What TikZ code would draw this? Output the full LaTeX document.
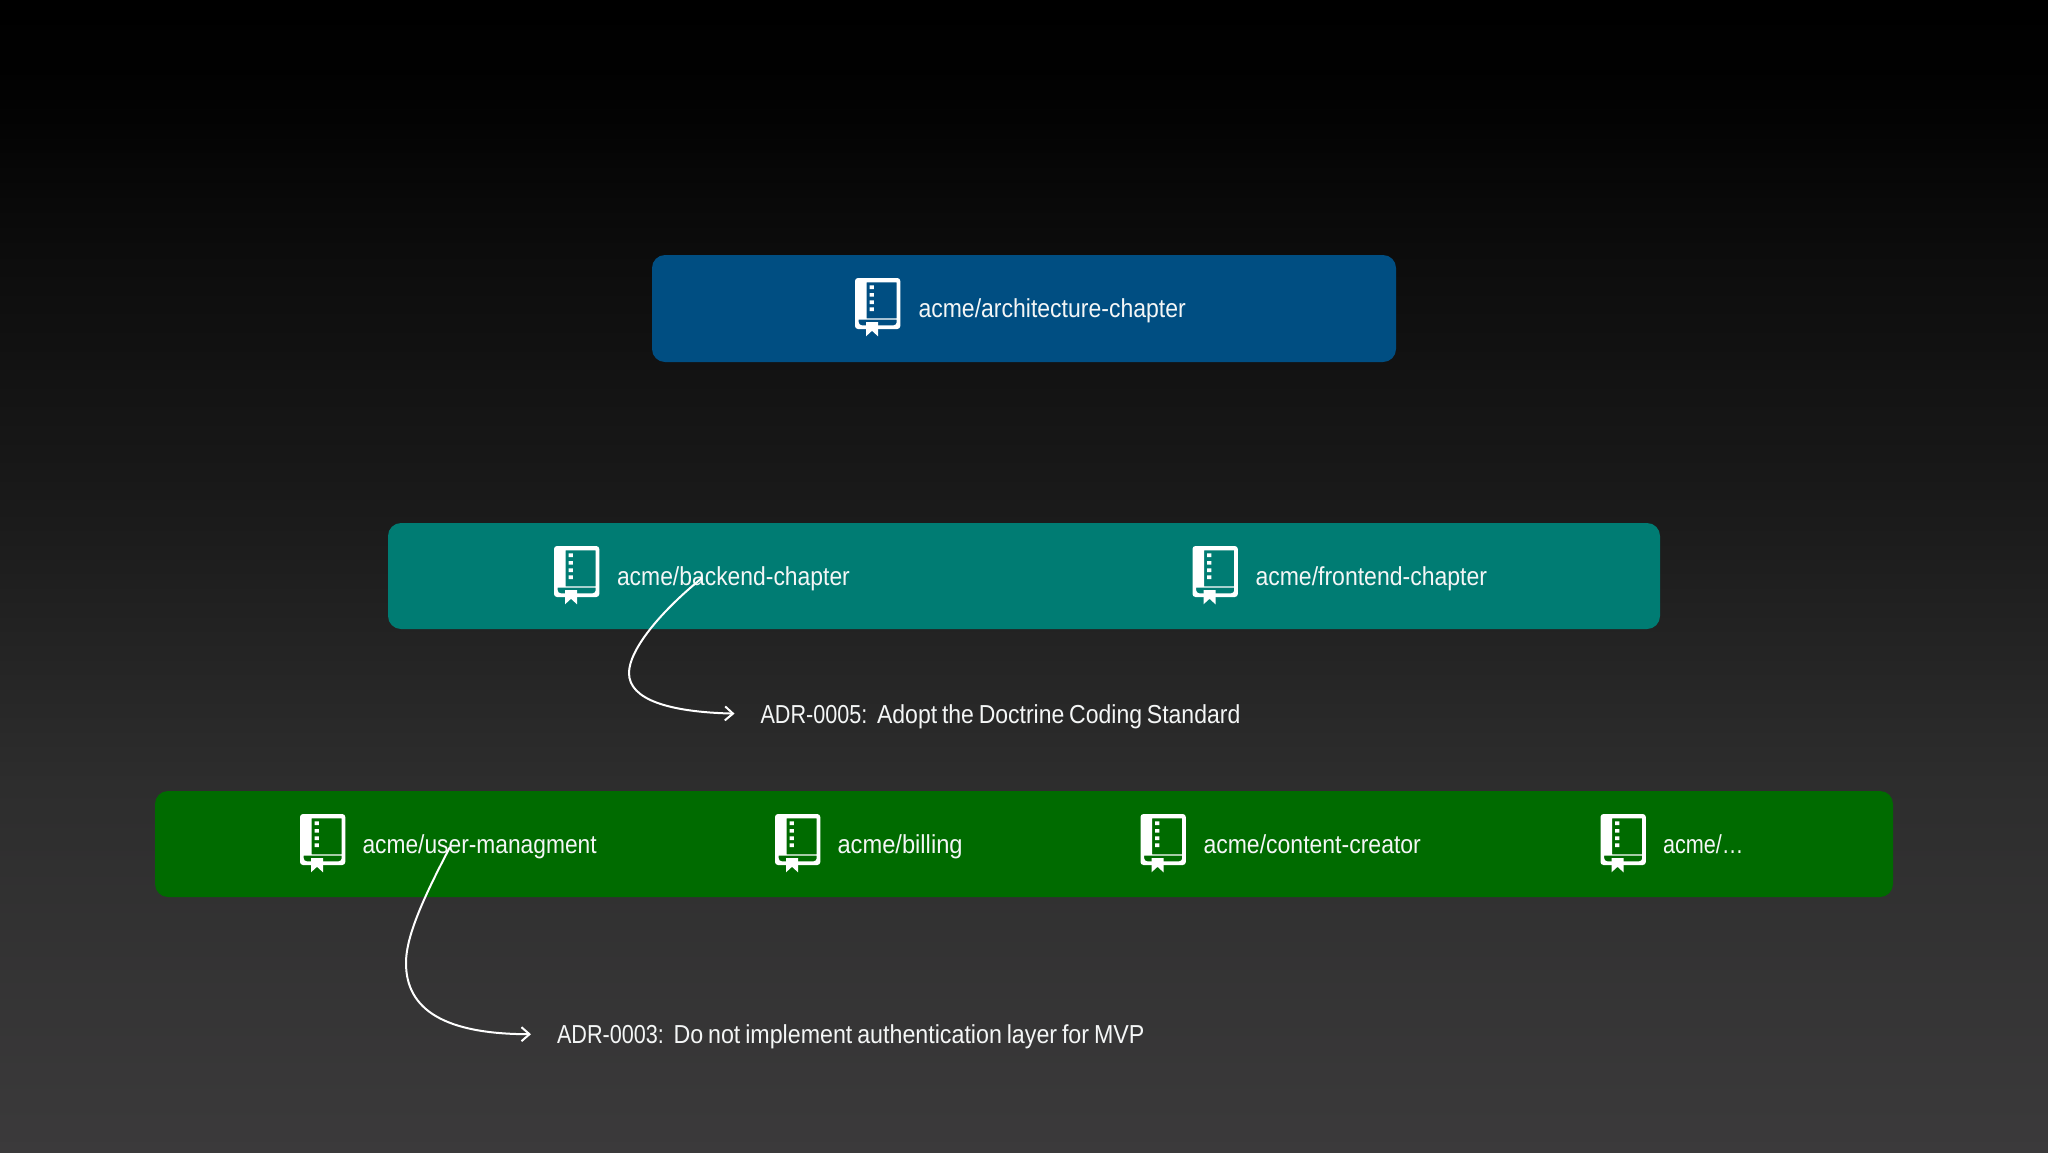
\documentclass[tikz,border=0pt]{standalone}
\usepackage{graphicx}
\usepackage{fontspec}
\setmainfont[FakeStretch=0.885,WordSpace=0.75]{Liberation Sans}
\usetikzlibrary{arrows.meta}
\definecolor{bluebar}{HTML}{004E82}
\definecolor{tealbar}{HTML}{007C73}
\definecolor{greenbar}{HTML}{006B00}
\definecolor{inktext}{HTML}{F4F6F6}
\pgfdeclareverticalshading{pagefade}{100bp}{
  rgb(0bp)=(0.231,0.227,0.231);
  rgb(25bp)=(0.231,0.227,0.231);
  rgb(41.1bp)=(0.176,0.176,0.176);
  rgb(52.9bp)=(0.102,0.102,0.102);
  rgb(64bp)=(0.048,0.048,0.048);
  rgb(70.6bp)=(0.008,0.008,0.008);
  rgb(75bp)=(0,0,0);
  rgb(100bp)=(0,0,0)}
\newcommand\squeezed[2]{\scalebox{#1}[1]{#2}}
\tikzset{
  x=1pt,y=-1pt,
  bar/.style={rounded corners=13pt,fill=#1,draw=none},
  repo/.style={anchor=base west,inner sep=0pt,outer sep=0pt,text=inktext,font=\fontsize{26}{30}\selectfont},
  adr/.style={anchor=base west,inner sep=0pt,outer sep=0pt,text=inktext,font=\fontsize{26}{30}\selectfont},
  link/.style={draw=white,line width=2pt,-{Straight Barb[length=8pt,width=14pt,line width=2pt]}},
  book/.pic={
    \fill[white,even odd rule,rounded corners=3pt]
      (0,0) rectangle (45.3,51)
      [sharp corners] (11.7,4.3) rectangle (41.7,40.3)
      (3.7,41.7) -- (41.7,41.7) [rounded corners=3pt] -- (41.7,47.3) -- (3.7,47.3) [sharp corners] -- cycle;
    \fill[white] (14.7,7.3) rectangle ++(4.2,3.7)
                 (14.7,15) rectangle ++(4.2,3.7)
                 (14.7,22.3) rectangle ++(4.2,3.7)
                 (14.7,29.4) rectangle ++(4.2,3.7);
    \fill[white] (11,44) -- (23,44) -- (23,58.3) -- (17,52.8) -- (11,58.3) -- cycle;
  }
}
\begin{document}
\begin{tikzpicture}
\useasboundingbox (0,0) rectangle (2048,1152);
\fill[shading=pagefade] (0,0) rectangle (2048,1152);

\path[bar=bluebar] (652,255) rectangle (1396,362);
\path[bar=tealbar] (388,523) rectangle (1660,629);
\path[bar=greenbar] (155,791) rectangle (1893,897);

\pic at (855,278) {book};
\pic at (554,546) {book};
\pic at (1192.5,546) {book};
\pic at (300,814) {book};
\pic at (775,814) {book};
\pic at (1140.5,814) {book};
\pic at (1600.5,814) {book};

\node[repo] (arch) at (918.5,317) {acme/architecture-chapter};
\node[repo] (back) at (617,585) {\squeezed{0.995}{acme/backend-chapter}};
\node[repo] (front) at (1255.5,585) {acme/frontend-chapter};
\node[repo] (user) at (362.5,853) {\squeezed{0.99}{acme/user-managment}};
\node[repo] (bill) at (837.5,853) {\squeezed{1.03}{acme/billing}};
\node[repo] (cont) at (1203.5,853) {acme/content-creator};
\node[repo] (etc) at (1663,853) {\squeezed{0.94}{acme/…}};

\node[adr] (adr5) at (760.5,723) {\squeezed{0.94}{ADR-0005:}\ \ Adopt the Doctrine Coding Standard};
\node[adr] (adr3) at (557,1043) {\squeezed{0.94}{ADR-0003:}\ \ \squeezed{1.01}{Do not implement authentication layer for MVP}};

\coordinate (s5) at (702,578);
\coordinate (s3) at (450,847);
\draw[link,shorten >=26pt] (s5) .. controls (660,612) and (629,650) .. (629,673)
   .. controls (629,700) and (670,712) .. ([yshift=2pt]adr5.west);
\draw[link,shorten >=26pt] (s3) .. controls (425,895) and (406,935) .. (406,963)
   .. controls (406,1010) and (445,1034) .. ([yshift=2pt]adr3.west);
\end{tikzpicture}
\end{document}
